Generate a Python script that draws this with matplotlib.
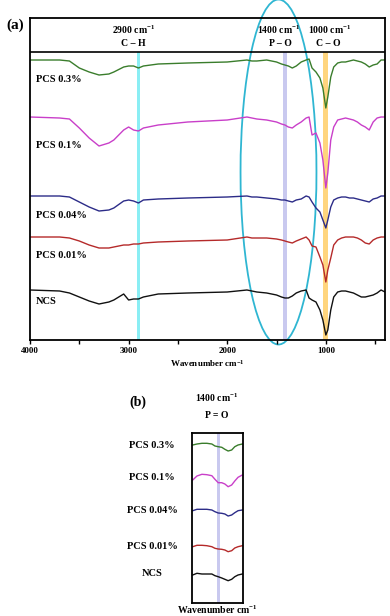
import matplotlib
matplotlib.use('Agg')
from matplotlib import pyplot as plt
from matplotlib.patches import Ellipse

plt.rcParams['font.family'] = ['Liberation Serif', 'DejaVu Serif']
plt.rcParams['font.weight'] = 'bold'
plt.rcParams['mathtext.default'] = 'regular'

# ---- panel (a): full FTIR spectra (stacked, arbitrary offset units)
wn = [4000, 3700, 3600, 3500, 3400, 3300, 3200, 3150, 3050, 3000, 2950, 2900, 2850, 2700,
      2400, 2000, 1800, 1750, 1700, 1600, 1500, 1450, 1415, 1380, 1340, 1300, 1250, 1200,
      1170, 1140, 1100, 1060, 1030, 1000, 980, 950, 920, 880, 840, 800, 760, 720, 680, 640,
      600, 560, 520, 480, 440, 400]
pcs03 = [280, 280, 279, 272, 268, 265, 266, 268, 273, 274, 274, 272, 274, 276, 277, 278,
         280, 279, 279, 280, 278, 276, 275, 274, 272, 274, 278, 280, 281, 272, 268, 262,
         252, 232, 243, 263, 273, 277, 278, 278, 279, 280, 279, 278, 276, 273, 275, 276,
         280, 280]
pcs01 = [223, 222, 221, 212, 202, 194, 197, 200, 210, 213, 210, 209, 212, 215, 218, 220,
         223, 222, 221, 220, 218, 216, 215, 213, 212, 215, 218, 222, 223, 205, 207, 197,
         180, 152, 167, 200, 213, 220, 221, 222, 221, 220, 218, 215, 213, 210, 218, 222,
         223, 223]
pcs004 = [144, 144, 143, 138, 133, 129, 130, 132, 139, 140, 139, 137, 140, 141, 142, 143,
          144, 143, 143, 142, 141, 140, 140, 139, 138, 140, 141, 144, 143, 138, 132, 128,
          120, 112, 120, 133, 140, 142, 143, 143, 142, 142, 141, 140, 139, 138, 141, 142,
          144, 144]
pcs001 = [103, 103, 102, 99, 95, 92, 92, 93, 95, 95, 96, 96, 97, 98, 99, 100, 103, 102,
          102, 102, 101, 100, 99, 98, 97, 99, 101, 103, 100, 94, 93, 83, 75, 58, 70, 82, 95,
          100, 102, 103, 103, 103, 102, 100, 97, 96, 100, 102, 103, 103]
ncs = [50, 49, 47, 43, 39, 36, 38, 40, 46, 40, 41, 41, 43, 46, 47, 48, 50, 49, 48, 47, 45,
       43, 42, 42, 44, 47, 49, 50, 42, 40, 38, 30, 20, 5, 10, 30, 43, 48, 49, 49, 48, 47,
       45, 43, 43, 44, 45, 47, 50, 48]

# ---- panel (b): zoom around 1400 cm-1
wn_b = [1595, 1565, 1530, 1495, 1460, 1438, 1415, 1390, 1368, 1345, 1320, 1298, 1275, 1245]
b_pcs03 = [158, 159, 159.7, 159.7, 159, 157, 156.3, 155.7, 153.7, 152, 153, 156.3, 158, 159]
b_pcs01 = [123, 127, 128.7, 128.3, 127.3, 123.7, 120.3, 120.3, 119, 116.3, 118, 122, 125.7, 128]
b_pcs004 = [92.3, 93.7, 93.7, 93.7, 93, 91.3, 90, 89.7, 89, 87, 88, 90.3, 92.3, 93]
b_pcs001 = [56.3, 57.7, 57.7, 57.3, 56.3, 54.7, 54, 53.7, 53, 51.3, 52.3, 55, 56.3, 57.3]
b_ncs = [28, 29.7, 29, 29, 29, 27.3, 26.3, 25, 23.7, 22.3, 23.7, 26.3, 28, 29]

names = ['PCS 0.3%', 'PCS 0.1%', 'PCS 0.04%', 'PCS 0.01%', 'NCS']
colors = ['#3a7d2c', '#c93fc9', '#2c2c88', '#b52a2a', '#111111']
series_a = [pcs03, pcs01, pcs004, pcs001, ncs]
series_b = [b_pcs03, b_pcs01, b_pcs004, b_pcs001, b_ncs]
label_y_a = [260, 194, 124, 85, 38]
label_y_b = [0.929, 0.741, 0.547, 0.335, 0.176]

fig = plt.figure(figsize=(3.9, 6.16), dpi=100)

ax = fig.add_axes([30/390, 1-340/616, 355/390, 322/616])
ax.set_xlim(4000, 400)
ax.set_ylim(0, 322)

# highlight bands
ax.fill_between([2920, 2880], 0, 288, color='#8aeef4', lw=0)
ax.fill_between([1432, 1398], 0, 288, color='#c9c9ef', lw=0)
ax.fill_between([1025, 980], 0, 288, color='#ffd57e', lw=0)
ax.axhline(288, color='black', lw=1.2)

for y, c, n, ly in zip(series_a, colors, names, label_y_a):
    ax.plot(wn, y, color=c, lw=1.0)
    ax.text(0.017, ly, n, transform=ax.get_yaxis_transform(), fontsize=7.5,
            fontweight='bold', va='center', ha='left')

ax.text(2950, 310, '2900 cm$^{-1}$', ha='center', va='center', fontsize=7, fontweight='bold')
ax.text(2950, 297, 'C – H', ha='center', va='center', fontsize=7, fontweight='bold')
ax.text(1480, 310, '1400 cm$^{-1}$', ha='center', va='center', fontsize=7, fontweight='bold')
ax.text(1460, 297, 'P – O', ha='center', va='center', fontsize=7, fontweight='bold')
ax.text(960, 310, '1000 cm$^{-1}$', ha='center', va='center', fontsize=7, fontweight='bold')
ax.text(975, 297, 'C – O', ha='center', va='center', fontsize=7, fontweight='bold')

ell = Ellipse((1480, 168), 770, 345, fill=False, edgecolor='#2fb6d2', lw=1.3, clip_on=False)
ax.add_patch(ell)

ax.set_xticks([4000, 3000, 2000, 1000])
ax.set_xticks([3500, 2500, 1500, 500], minor=True)
ax.set_yticks([])
ax.tick_params(axis='x', which='both', direction='out', length=3, width=1, labelsize=6.5, pad=2)
for lab in ax.get_xticklabels():
    lab.set_fontweight('bold')
ax.set_xlabel('Wavenumber cm$^{-1}$', fontsize=6.5, fontweight='bold', labelpad=2)
for s in ax.spines.values():
    s.set_linewidth(1.3)

fig.text(15/390, 1-25/616, '(a)', fontsize=11, fontweight='bold', ha='center', va='center')

# panel (b)
axb = fig.add_axes([192/390, 1-603/616, 51/390, 170/616])
axb.set_xlim(1600, 1240)
axb.set_ylim(0, 170)
axb.fill_between([1425, 1405], 0, 170, color='#c9c9ef', lw=0)
for y, c, n, ly in zip(series_b, colors, names, label_y_b):
    axb.plot(wn_b, y, color=c, lw=1.0)
    axb.text(-0.78, ly, n, transform=axb.transAxes, fontsize=7.5, fontweight='bold',
             ha='center', va='center')
axb.set_xticks([])
axb.set_yticks([])
for s in axb.spines.values():
    s.set_linewidth(1.3)

fig.text(138/390, 1-402/616, '(b)', fontsize=10, fontweight='bold', ha='center', va='center')
fig.text(217/390, 1-398/616, '1400 cm$^{-1}$', fontsize=7, fontweight='bold', ha='center', va='center')
fig.text(217/390, 1-415/616, 'P = O', fontsize=7, fontweight='bold', ha='center', va='center')
fig.text(217/390, 1-610/616, 'Wavenumber cm$^{-1}$', fontsize=7, fontweight='bold', ha='center', va='center')

fig.savefig('out.png', dpi=100)
